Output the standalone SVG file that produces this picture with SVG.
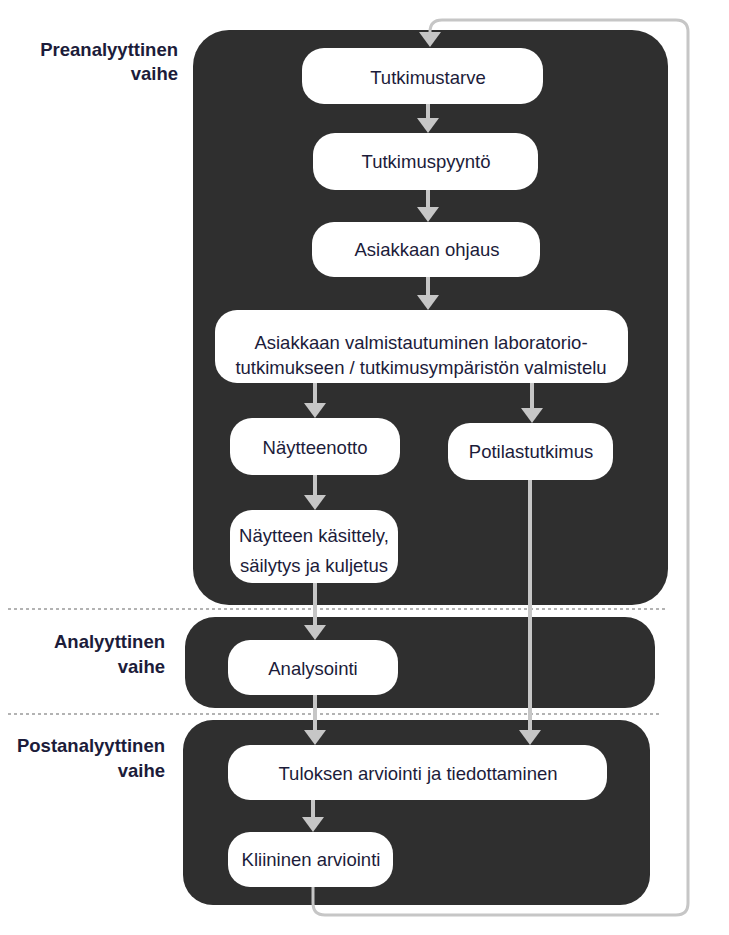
<svg xmlns="http://www.w3.org/2000/svg" width="729" height="935" viewBox="0 0 729 935">
<style>
.panel{fill:#2f2f2f}
.node rect{fill:#ffffff}
.node text{font-family:"Liberation Sans",Arial,sans-serif;font-size:18.5px;fill:#1c1c3a;text-anchor:middle}
.phase{font-family:"Liberation Sans",Arial,sans-serif;font-size:18.5px;font-weight:bold;fill:#1c1c3a;text-anchor:end}
.sep{stroke:#9a9a9a;stroke-width:1.5;stroke-dasharray:3 3;fill:none}
.conn{stroke:#c6c6c6;stroke-width:4;fill:none}
.loop{stroke:#c6c6c6;stroke-width:3;fill:none}
.head{fill:#c6c6c6}
</style>
<rect width="729" height="935" fill="#ffffff"/>
<g id="panels">
<rect class="panel" x="193" y="30" width="475" height="575" rx="36"/>
<rect class="panel" x="185" y="617" width="470" height="91" rx="30"/>
<rect class="panel" x="183" y="720" width="467" height="185" rx="30"/>
</g>
<g id="separators">
<line class="sep" x1="8" y1="609" x2="668" y2="609"/>
<line class="sep" x1="8" y1="714" x2="660" y2="714"/>
</g>
<g id="phase-labels">
<text class="phase" x="178" y="56">Preanalyyttinen</text>
<text class="phase" x="178" y="80">vaihe</text>
<text class="phase" x="165" y="648">Analyyttinen</text>
<text class="phase" x="165" y="673">vaihe</text>
<text class="phase" x="165" y="752">Postanalyyttinen</text>
<text class="phase" x="165" y="777">vaihe</text>
</g>
<g id="connectors">
<path class="loop" d="M313 887 V903 Q313 915 325 915 H676 Q688 915 688 903 V32 Q688 20 676 20 H442 Q430 20 430 32 V34"/>
<polygon class="head" points="419,32 441,32 430,47"/>
<line class="conn" x1="428" y1="104" x2="428" y2="120"/>
<polygon class="head" points="417,118 439,118 428,133"/>
<line class="conn" x1="428" y1="190" x2="428" y2="209"/>
<polygon class="head" points="417,207 439,207 428,222"/>
<line class="conn" x1="428" y1="277" x2="428" y2="297"/>
<polygon class="head" points="417,295 439,295 428,310"/>
<line class="conn" x1="315" y1="383" x2="315" y2="405"/>
<polygon class="head" points="304,403 326,403 315,418"/>
<line class="conn" x1="532" y1="383" x2="532" y2="410"/>
<polygon class="head" points="521,408 543,408 532,423"/>
<line class="conn" x1="315" y1="475" x2="315" y2="497"/>
<polygon class="head" points="304,495 326,495 315,510"/>
<line class="conn" x1="315" y1="583" x2="315" y2="627"/>
<polygon class="head" points="304,625 326,625 315,640"/>
<line class="conn" x1="530" y1="480" x2="530" y2="732"/>
<polygon class="head" points="519,730 541,730 530,745"/>
<line class="conn" x1="315" y1="695" x2="315" y2="732"/>
<polygon class="head" points="304,730 326,730 315,745"/>
<line class="conn" x1="313" y1="800" x2="313" y2="819"/>
<polygon class="head" points="302,817 324,817 313,832"/>
</g>
<g id="n-tutkimustarve" class="node">
<rect x="302" y="48" width="241" height="56" rx="22"/>
<text x="428" y="84">Tutkimustarve</text>
</g>
<g id="n-tutkimuspyynto" class="node">
<rect x="313" y="133" width="225" height="57" rx="22"/>
<text x="426" y="168">Tutkimuspyyntö</text>
</g>
<g id="n-ohjaus" class="node">
<rect x="312" y="222" width="228" height="55" rx="22"/>
<text x="427" y="256">Asiakkaan ohjaus</text>
</g>
<g id="n-valmistautuminen" class="node">
<rect x="215" y="310" width="413" height="73" rx="22"/>
<text x="421" y="349">Asiakkaan valmistautuminen laboratorio-</text>
<text x="421" y="374">tutkimukseen / tutkimusympäristön valmistelu</text>
</g>
<g id="n-naytteenotto" class="node">
<rect x="230" y="418" width="170" height="57" rx="22"/>
<text x="315" y="454">Näytteenotto</text>
</g>
<g id="n-potilastutkimus" class="node">
<rect x="448" y="423" width="165" height="57" rx="22"/>
<text x="531" y="458">Potilastutkimus</text>
</g>
<g id="n-kasittely" class="node">
<rect x="230" y="510" width="168" height="73" rx="22"/>
<text x="314" y="542">Näytteen käsittely,</text>
<text x="314" y="572">säilytys ja kuljetus</text>
</g>
<g id="n-analysointi" class="node">
<rect x="228" y="640" width="170" height="55" rx="22"/>
<text x="313" y="675">Analysointi</text>
</g>
<g id="n-tuloksen" class="node">
<rect x="228" y="745" width="379" height="55" rx="22"/>
<text x="418" y="780">Tuloksen arviointi ja tiedottaminen</text>
</g>
<g id="n-kliininen" class="node">
<rect x="228" y="832" width="165" height="55" rx="22"/>
<text x="311" y="866">Kliininen arviointi</text>
</g>
</svg>
